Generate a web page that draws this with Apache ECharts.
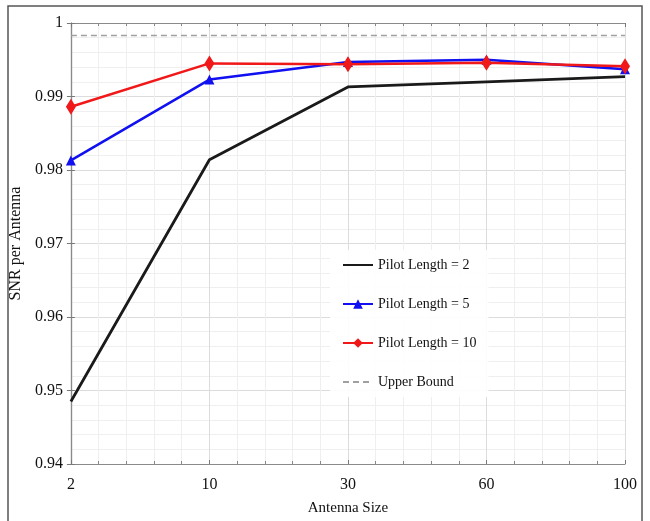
<!DOCTYPE html>
<html>
<head>
<meta charset="utf-8">
<script src="https://cdn.jsdelivr.net/npm/echarts@6/dist/echarts.min.js"></script>
<style>
  html, body { margin: 0; padding: 0; background: #fff; }
  #chart { width: 650px; height: 521px; }
</style>
</head>
<body>
<div id="chart"></div>
<script>
// antenna sizes (evenly spaced on the plot)
const antennaSizes = ['2', '10', '30', '60', '100'];
const pilot2 = [0.9485, 0.9814, 0.9913, 0.9920, 0.9927];
const pilot5 = [0.9813, 0.9923, 0.9947, 0.9950, 0.9937];
const pilot10 = [0.9886, 0.9945, 0.9944, 0.9946, 0.9941];
const upperBound = [0.9983, 0.9983, 0.9983, 0.9983, 0.9983];
const yTicks = [0.94, 0.95, 0.96, 0.97, 0.98, 0.99, 1];

const font = '"Liberation Serif", "DejaVu Serif", serif';
const toPairs = arr => arr.map((v, i) => [i, v]);

const chart = echarts.init(document.getElementById('chart'));

const boxLine = { show: true, lineStyle: { color: '#8a8a8a', width: 1.2 } };
const inTick = { show: true, inside: true, length: 4, lineStyle: { color: '#777' } };

chart.setOption({
  backgroundColor: '#fff',
  animation: false,
  textStyle: { fontFamily: font },
  grid: { left: 66, right: 25, top: 23, bottom: 56 },
  graphic: [{
    type: 'rect',
    shape: { x: 8, y: 6, width: 634, height: 530 },
    style: { fill: 'none', stroke: '#555', lineWidth: 1.5 },
    silent: true
  }],
  legend: {
    orient: 'vertical',
    left: 330,
    top: 250,
    itemGap: 25,
    itemWidth: 30,
    itemHeight: 12,
    padding: [8, 12, 8, 12],
    backgroundColor: 'rgba(255,255,255,0.9)',
    textStyle: { fontFamily: font, fontSize: 14, color: '#111' },
    data: [
      { name: 'Pilot Length = 2', itemStyle: { opacity: 0 } },
      { name: 'Pilot Length = 5' },
      { name: 'Pilot Length = 10' },
      { name: 'Upper Bound', itemStyle: { opacity: 0 } }
    ]
  },
  xAxis: [{
    type: 'value',
    min: 0, max: antennaSizes.length - 1, interval: 1,
    name: 'Antenna Size',
    nameLocation: 'middle',
    nameGap: 37,
    nameTextStyle: { fontFamily: font, fontSize: 15, color: '#111' },
    axisLine: boxLine,
    axisTick: inTick,
    minorTick: { show: true, splitNumber: 5, length: 3, lineStyle: { color: '#888' } },
    axisLabel: { fontFamily: font, fontSize: 16, color: '#111', margin: 13,
      formatter: v => antennaSizes[v] || '' },
    splitLine: { show: true, lineStyle: { color: '#dcdcdc' } },
    minorSplitLine: { show: true, lineStyle: { color: '#efefef' } }
  }, {
    type: 'value',
    position: 'top',
    min: 0, max: antennaSizes.length - 1, interval: 1,
    axisLine: boxLine,
    axisTick: inTick,
    minorTick: { show: true, splitNumber: 5, length: 3, lineStyle: { color: '#888' } },
    axisLabel: { show: false },
    splitLine: { show: false }
  }],
  yAxis: [{
    type: 'value',
    min: 0.94, max: 1, interval: 0.01,
    name: 'SNR per Antenna',
    nameLocation: 'middle',
    nameGap: 38,
    nameTextStyle: { fontFamily: font, fontSize: 16, color: '#111' },
    axisLine: boxLine,
    axisTick: inTick,
    axisLabel: { fontFamily: font, fontSize: 16, color: '#111', margin: 8,
      formatter: v => { const t = yTicks.find(x => Math.abs(x - v) < 1e-6); return t === undefined ? '' : String(t); } },
    splitLine: { show: true, lineStyle: { color: '#dcdcdc' } },
    minorTick: { show: false, splitNumber: 5 },
    minorSplitLine: { show: true, lineStyle: { color: '#efefef' } }
  }, {
    type: 'value',
    position: 'right',
    min: 0.94, max: 1, interval: 0.01,
    axisLine: boxLine,
    axisTick: inTick,
    axisLabel: { show: false },
    splitLine: { show: false }
  }],
  series: [{
    name: 'Pilot Length = 2',
    type: 'line',
    data: toPairs(pilot2),
    symbol: 'none',
    lineStyle: { color: '#1a1a1a', width: 2.8 },
    itemStyle: { color: '#1a1a1a' },
    z: 3
  }, {
    name: 'Pilot Length = 5',
    type: 'line',
    data: toPairs(pilot5),
    symbol: 'triangle',
    symbolSize: 10,
    lineStyle: { color: '#1010f0', width: 2.5 },
    itemStyle: { color: '#1010f0' },
    z: 4
  }, {
    name: 'Pilot Length = 10',
    type: 'line',
    data: toPairs(pilot10),
    symbol: 'diamond',
    symbolSize: [10, 16],
    lineStyle: { color: '#f01818', width: 2.5 },
    itemStyle: { color: '#f01818' },
    z: 5
  }, {
    name: 'Upper Bound',
    type: 'line',
    data: toPairs(upperBound),
    symbol: 'none',
    lineStyle: { color: '#a0a0a0', width: 1.5, type: [6, 4] },
    itemStyle: { color: '#a0a0a0' },
    z: 2
  }]
});
</script>
</body>
</html>
